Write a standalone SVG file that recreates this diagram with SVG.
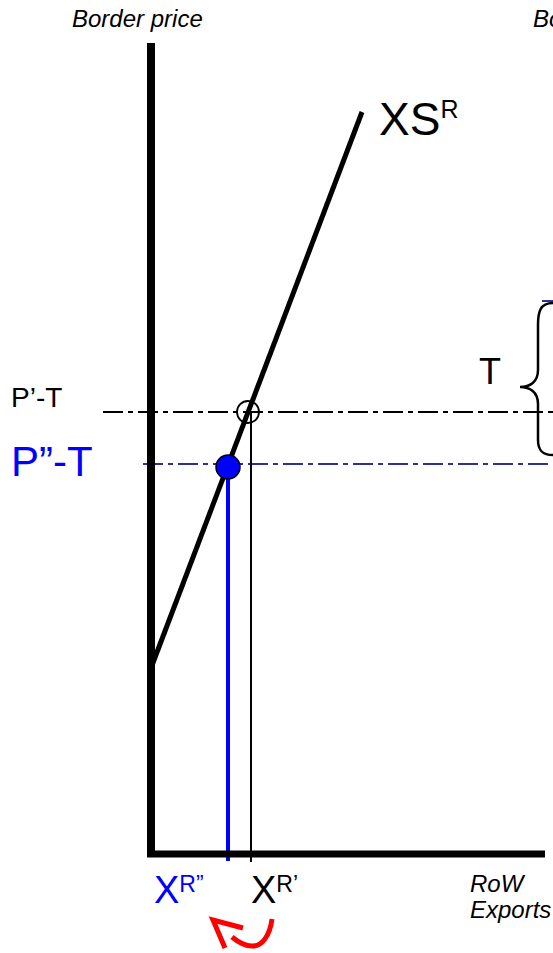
<svg xmlns="http://www.w3.org/2000/svg" width="553" height="953" viewBox="0 0 553 953">
<defs>
<style>
.t{font-family:"Liberation Sans",Arial,sans-serif;}
.it{font-family:"Liberation Sans",Arial,sans-serif;font-style:italic;font-size:24px;fill:#000;}
.dashK{stroke:#000;stroke-width:2;stroke-dasharray:20 5 5 5;fill:none;}
.dashB{stroke:#2e3192;stroke-width:2;stroke-dasharray:20 5 5 5;fill:none;}
</style>
</defs>
<rect width="553" height="953" fill="#fff"/>
<g id="connectors">
<line x1="103" y1="412" x2="553" y2="412" class="dashK"/>
<line x1="143" y1="464" x2="553" y2="464" class="dashB"/>
<line x1="542" y1="301" x2="553" y2="301" class="dashB"/>
<line x1="251" y1="412" x2="251" y2="862" stroke="#000" stroke-width="2"/>
<line x1="228" y1="467" x2="228" y2="861" stroke="#0000ff" stroke-width="4"/>
<line x1="151" y1="668" x2="362" y2="112" stroke="#000" stroke-width="5"/>
<line x1="151" y1="43" x2="151" y2="857" stroke="#000" stroke-width="8"/>
<line x1="147" y1="854" x2="545" y2="854" stroke="#000" stroke-width="7"/>
<path d="M553,303 C540,303 538,312 538,325 L538,370 C538,382 530,387 520,387 C530,387 538,392 538,404 L538,440 C538,450 542,455 553,455" fill="none" stroke="#000" stroke-width="2.5"/>
<path d="M272,919 C270,935 262,947 252,946 C244,946 238,942 232,937" fill="none" stroke="#ff0000" stroke-width="5"/>
<path d="M243,928 L213,920 L225,948" fill="none" stroke="#ff0000" stroke-width="5"/>
</g>
<g id="point-old"><circle cx="248" cy="412" r="11" fill="none" stroke="#000" stroke-width="1.8"/></g>
<g id="point-new"><circle cx="228" cy="467" r="12" fill="#0000ff" stroke="#000" stroke-width="1.5"/></g>
<g id="labels">
<text x="72" y="27" class="it">Border price</text>
<text x="533" y="27" class="it">Border price</text>
<text x="379" y="135" class="t" font-size="46">XS<tspan font-size="25" dy="-17">R</tspan></text>
<text x="11" y="407" class="t" font-size="28">P’-T</text>
<text x="11" y="476" class="t" font-size="42" fill="#0000ff">P”-T</text>
<text x="479" y="384" class="t" font-size="36">T</text>
<text x="154" y="903" class="t" font-size="38" fill="#0000ff">X<tspan font-size="23" dy="-11">R”</tspan></text>
<text x="251" y="903" class="t" font-size="38">X<tspan font-size="23" dy="-11">R’</tspan></text>
<text x="470" y="892" class="it">RoW</text>
<text x="470" y="918" class="it">Exports</text>
</g>
</svg>
